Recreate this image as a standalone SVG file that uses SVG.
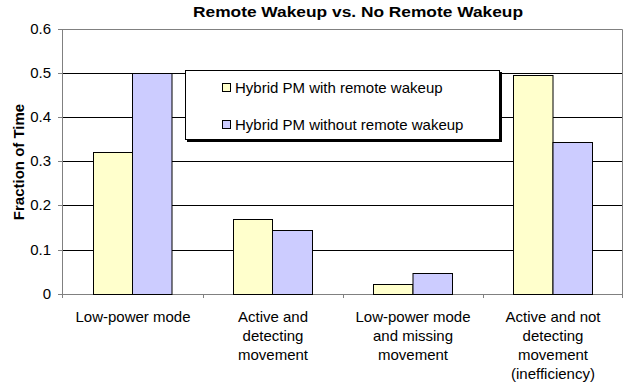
<svg xmlns="http://www.w3.org/2000/svg" width="626" height="386" viewBox="0 0 626 386">
<style>
text{font-family:"Liberation Sans",Arial,sans-serif;fill:#000}
.t{font-size:15px}
.tick{font-size:15px;text-anchor:end}
.cat{font-size:15px;text-anchor:middle}
.grid{stroke:#000;stroke-width:1}
.axis{stroke:#808080;stroke-width:1;fill:none}
.y{fill:#FFFFCC;stroke:#000;stroke-width:1}
.b{fill:#CCCCFF;stroke:#000;stroke-width:1}
</style>
<rect x="0" y="0" width="626" height="386" fill="#fff"/>
<g id="title">
<text x="358" y="17" font-size="14.5" font-weight="bold" text-anchor="middle" textLength="330" lengthAdjust="spacingAndGlyphs">Remote Wakeup vs. No Remote Wakeup</text>
</g>
<g id="yaxis-title">
<text transform="translate(24,162) rotate(-90)" font-size="15" font-weight="bold" text-anchor="middle">Fraction of Time</text>
</g>
<g id="grid">
<line class="grid" x1="62" y1="73.5" x2="623" y2="73.5"/>
<line class="grid" x1="62" y1="117.5" x2="623" y2="117.5"/>
<line class="grid" x1="62" y1="161.5" x2="623" y2="161.5"/>
<line class="grid" x1="62" y1="205.5" x2="623" y2="205.5"/>
<line class="grid" x1="62" y1="250.5" x2="623" y2="250.5"/>
</g>
<g id="frame">
<polyline class="axis" points="62.5,29.5 622.5,29.5 622.5,294.5"/>
<line class="axis" x1="62.5" y1="29" x2="62.5" y2="298"/>
<line class="axis" x1="62" y1="294.5" x2="623" y2="294.5"/>
<g id="yticks">
<line class="axis" x1="58" y1="29.5" x2="62" y2="29.5"/>
<line class="axis" x1="58" y1="73.5" x2="62" y2="73.5"/>
<line class="axis" x1="58" y1="117.5" x2="62" y2="117.5"/>
<line class="axis" x1="58" y1="161.5" x2="62" y2="161.5"/>
<line class="axis" x1="58" y1="205.5" x2="62" y2="205.5"/>
<line class="axis" x1="58" y1="250.5" x2="62" y2="250.5"/>
<line class="axis" x1="58" y1="294.5" x2="62" y2="294.5"/>
</g>
<g id="xticks">
<line class="axis" x1="203.5" y1="294" x2="203.5" y2="298"/>
<line class="axis" x1="343.5" y1="294" x2="343.5" y2="298"/>
<line class="axis" x1="483.5" y1="294" x2="483.5" y2="298"/>
<line class="axis" x1="622.5" y1="294" x2="622.5" y2="298"/>
</g>
</g>
<g id="ylabels">
<text class="tick" x="51" y="34">0.6</text>
<text class="tick" x="51" y="78">0.5</text>
<text class="tick" x="51" y="122">0.4</text>
<text class="tick" x="51" y="166">0.3</text>
<text class="tick" x="51" y="210">0.2</text>
<text class="tick" x="51" y="255">0.1</text>
<text class="tick" x="51" y="299">0</text>
</g>
<g id="bars">
<rect class="y" x="93.5" y="152.5" width="39" height="142"/>
<rect class="b" x="132.5" y="73.5" width="39.5" height="221"/>
<rect class="y" x="233.5" y="219.5" width="39" height="75"/>
<rect class="b" x="272.5" y="230.5" width="40" height="64"/>
<rect class="y" x="373.5" y="284.5" width="39.5" height="10"/>
<rect class="b" x="413" y="273.5" width="39.5" height="21"/>
<rect class="y" x="513.5" y="75.5" width="39.5" height="219"/>
<rect class="b" x="553" y="142.5" width="39.5" height="152"/>
</g>
<g id="legend">
<rect x="187" y="72" width="315" height="70" fill="#000"/>
<rect x="185.5" y="70.5" width="314" height="69" fill="#fff" stroke="#000" stroke-width="1"/>
<rect class="y" x="222.5" y="83.5" width="8" height="8"/>
<text class="t" x="235" y="93">Hybrid PM with remote wakeup</text>
<rect class="b" x="222.5" y="120.5" width="8" height="8"/>
<text class="t" x="235" y="130">Hybrid PM without remote wakeup</text>
</g>
<g id="categories">
<text class="cat" x="133" y="322">Low-power mode</text>
<text class="cat" x="273" y="322">Active and</text>
<text class="cat" x="273" y="341">detecting</text>
<text class="cat" x="273" y="360">movement</text>
<text class="cat" x="413" y="322">Low-power mode</text>
<text class="cat" x="413" y="341">and missing</text>
<text class="cat" x="413" y="360">movement</text>
<text class="cat" x="553" y="322">Active and not</text>
<text class="cat" x="553" y="341">detecting</text>
<text class="cat" x="553" y="360">movement</text>
<text class="cat" x="553" y="379">(inefficiency)</text>
</g>
</svg>
